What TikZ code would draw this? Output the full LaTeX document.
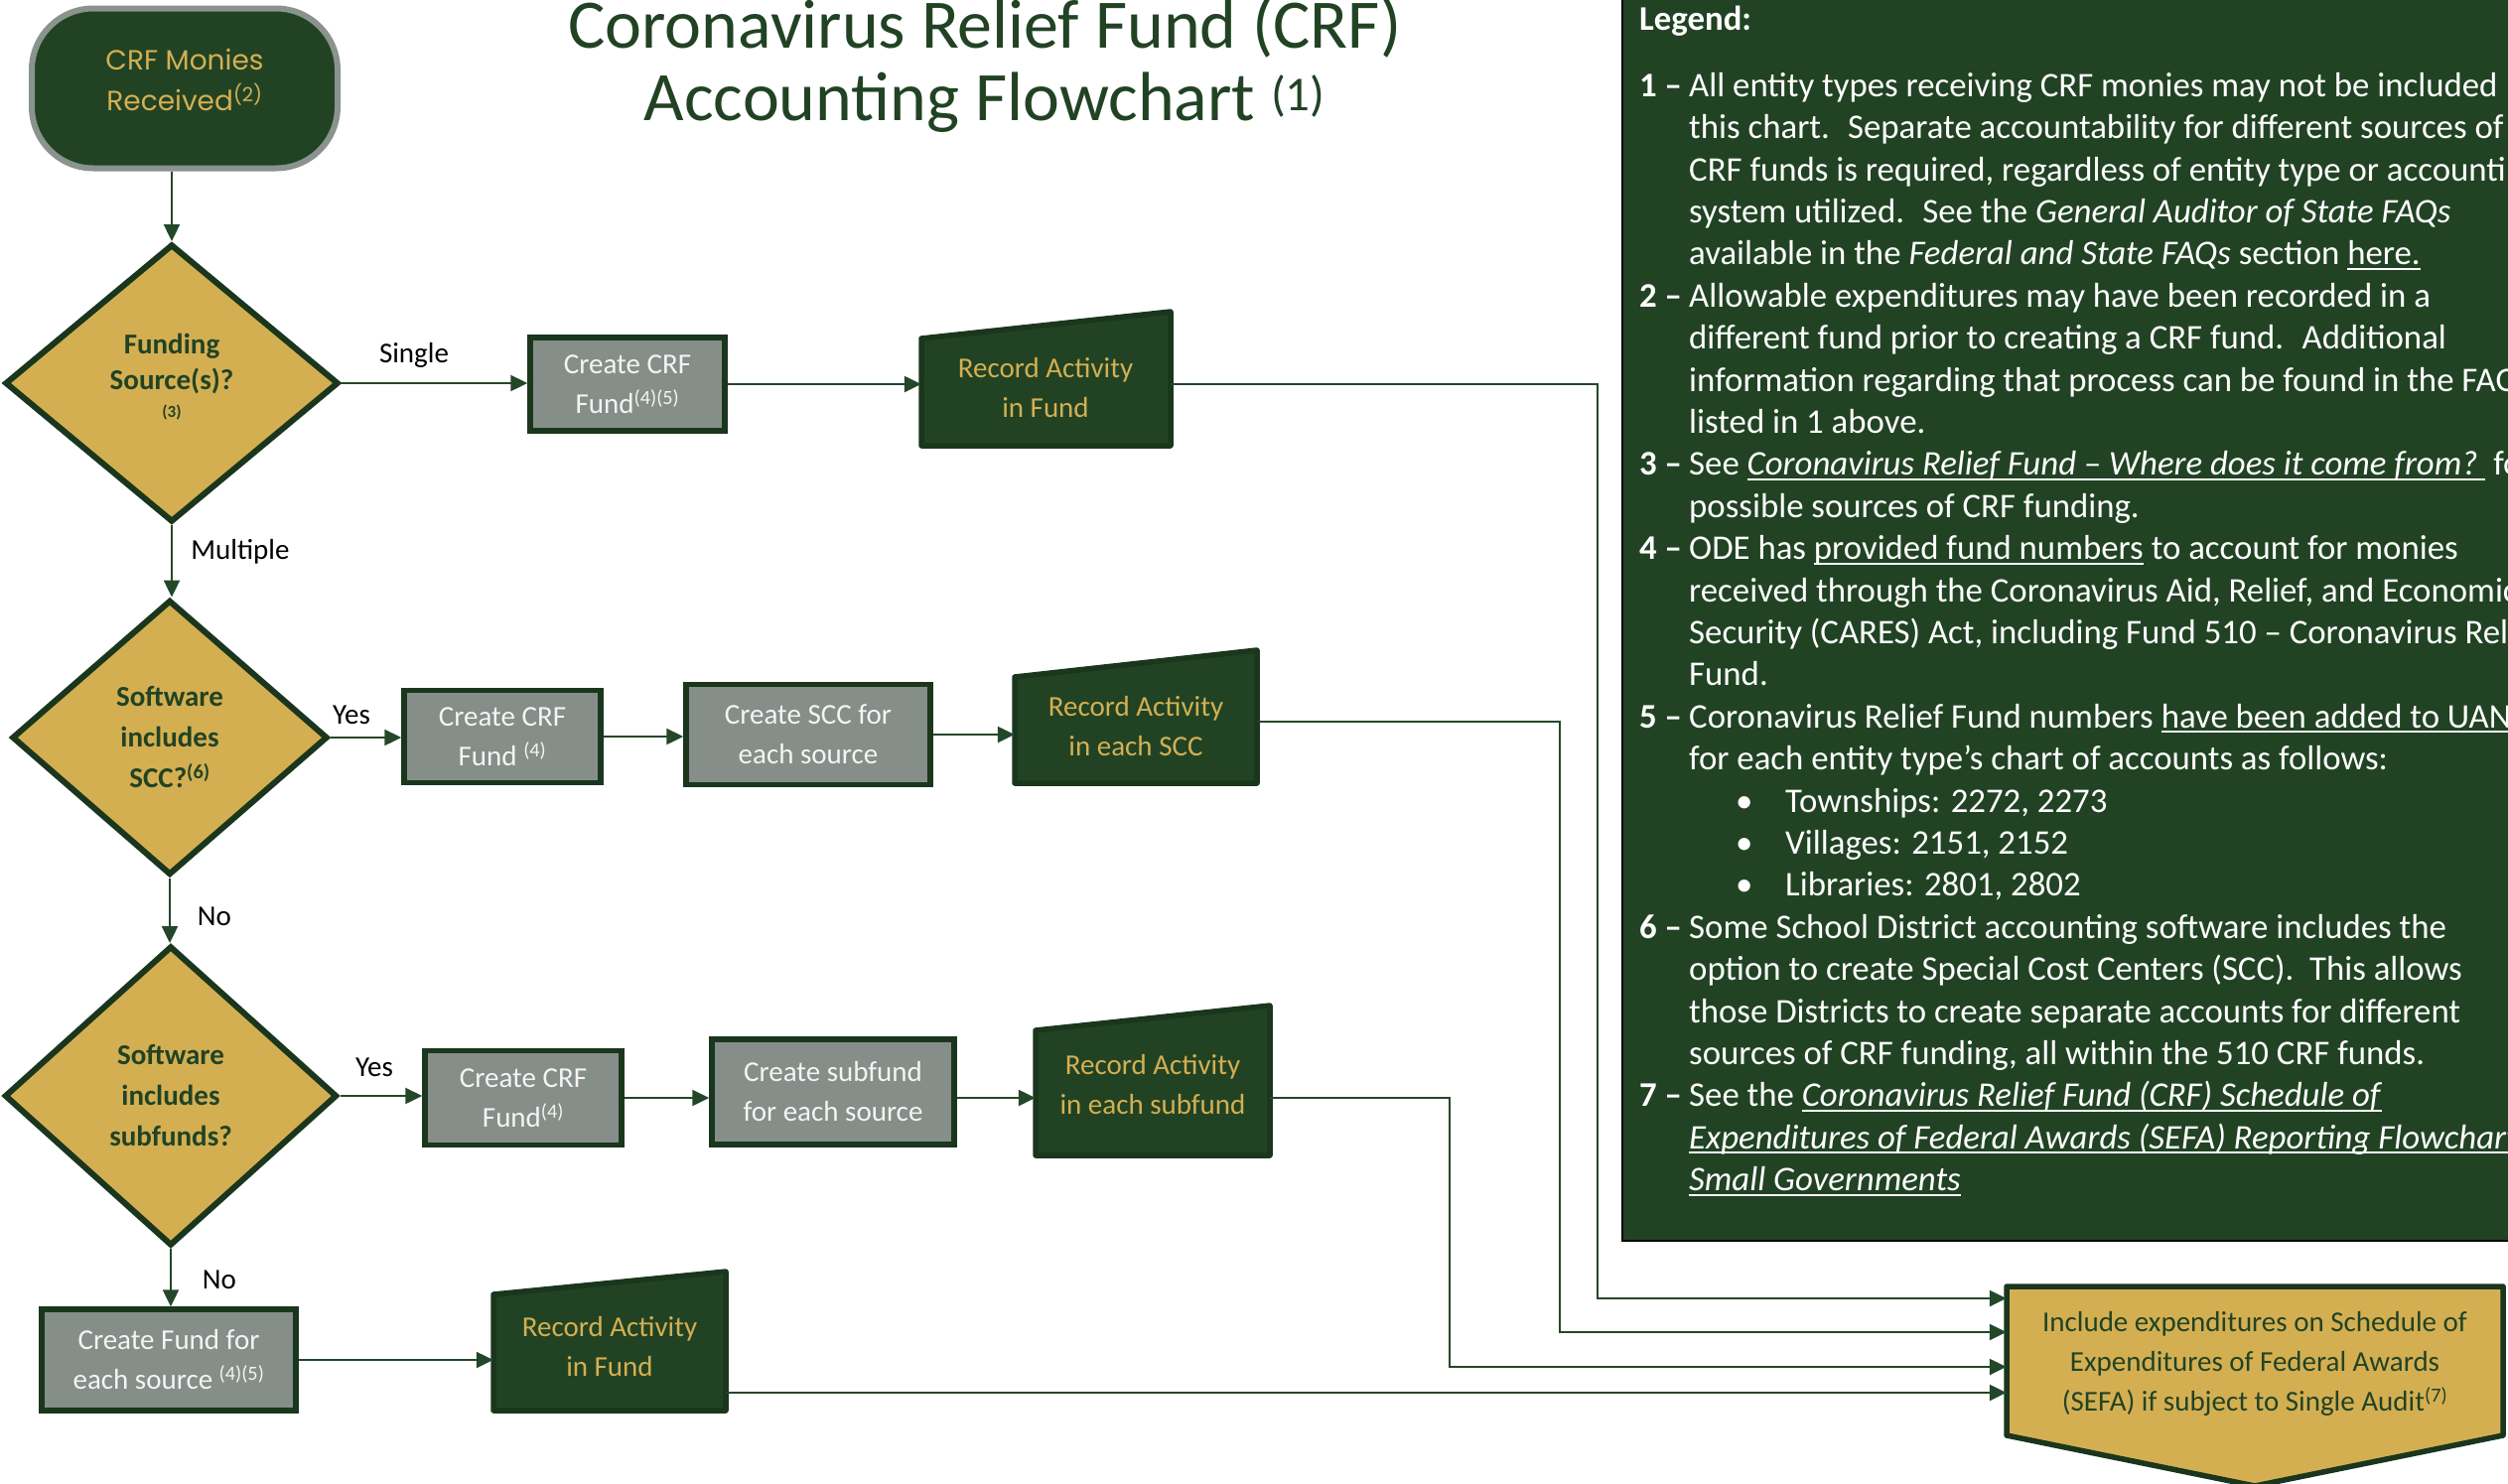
\documentclass[tikz,border=0pt]{standalone}
\usepackage{fontspec}
\setmainfont{Carlito}
\newfontfamily\gothicfont{Poppins}
\newfontfamily\titlefont{Carlito}
\usetikzlibrary{shapes.geometric,arrows.meta,fit,calc}
\definecolor{dkgreen}{HTML}{214324}
\definecolor{bdgreen}{HTML}{1A361D}
\definecolor{linegreen}{HTML}{24472A}
\definecolor{gold}{HTML}{D4AF52}
\definecolor{boxgray}{HTML}{858E88}
\definecolor{boxtext}{HTML}{F4F4F4}
\definecolor{startgray}{HTML}{8A938D}
\newsavebox\ulinebox
\newcommand\uln[1]{\sbox\ulinebox{#1}\rlap{\rule[-5pt]{\wd\ulinebox}{2.2pt}}\usebox\ulinebox}
\newcommand\legnum[1]{\makebox[50pt][l]{\textbf{#1 –}}}
\newcommand\legind{\hspace*{50pt}}
\newcommand\legbul{\hspace*{97pt}\makebox[50pt][l]{•}}
\newcommand\recpath[5]{\filldraw[recpoly] (#1,#3) -- (#2,#4) -- (#2,#5) -- (#1,#5) -- cycle;}
\tikzset{
  conn/.style={draw=linegreen, line width=2.4pt, -{Triangle[length=17pt,width=16pt]}},
  graybox/.style={rectangle, draw=bdgreen, line width=5.5pt, fill=boxgray, text=boxtext, font=\fontsize{29}{40}\selectfont, align=center, inner sep=0pt},
  decision/.style={diamond, aspect=1.15, draw=bdgreen, line width=6pt, fill=gold, text=dkgreen, font=\bfseries\fontsize{29}{41}\selectfont, align=center, inner sep=0pt},
  recpoly/.style={fill=dkgreen, draw=bdgreen, line width=5.5pt, line join=round},
  rectext/.style={text=gold, font=\fontsize{29}{40}\selectfont, align=center, inner sep=0pt},
  startshape/.style={rectangle, rounded corners=62pt, fill=dkgreen, draw=startgray, line width=6pt},
  starttext/.style={text=gold, font=\gothicfont\fontsize{28}{41}\selectfont, align=center, inner sep=0pt},
  lbl/.style={text=black, font=\fontsize{29}{34}\selectfont, inner sep=0pt},
  sefapoly/.style={fill=gold, draw=bdgreen, line width=5.5pt, line join=round},
  sefatext/.style={text=dkgreen, font=\fontsize{29}{40}\selectfont, align=center, inner sep=0pt},
  titlestyle/.style={text=dkgreen, font=\titlefont\fontsize{70}{80}\selectfont, inner sep=0pt},
  legbox/.style={fill=dkgreen, draw=black, line width=2.5pt},
  legtext/.style={text=white, font=\fontsize{34.8}{42.4}\selectfont, align=left, inner sep=0pt},
  fitbox/.style={inner sep=0pt, draw=none}
}
\begin{document}
\begin{tikzpicture}[x=1pt,y=-1pt]
\useasboundingbox (0,0) rectangle (2526,1494);
\fill[white] (0,0) rectangle (2526,1494);

% legend panel
\draw[legbox] (1634,-10) rectangle (2545,1250);
\node[legtext, anchor=west, font=\bfseries\fontsize{34.8}{42.4}\selectfont] (leghead) at (1651,21) {Legend:};
\node[legtext, anchor=north west] (legbody) at (1651,73) {%
\legnum{1}All entity types receiving CRF monies may not be included\\
\legind this chart.~ Separate accountability for different sources of\\
\legind CRF funds is required, regardless of entity type or accounting\\
\legind system utilized.~ See the \textit{General Auditor of State FAQs}\\
\legind available in the \textit{Federal and State FAQs} section \uln{here.}\\
\legnum{2}Allowable expenditures may have been recorded in a\\
\legind different fund prior to creating a CRF fund.~ Additional\\
\legind information regarding that process can be found in the FAQs\\
\legind listed in 1 above.\\
\legnum{3}See \uln{\textit{Coronavirus Relief Fund – Where does it come from?}\ } for\\
\legind possible sources of CRF funding.\\
\legnum{4}ODE has \uln{provided fund numbers} to account for monies\\
\legind received through the Coronavirus Aid, Relief, and Economic\\
\legind Security (CARES) Act, including Fund 510 – Coronavirus Relief\\
\legind Fund.\\
\legnum{5}Coronavirus Relief Fund numbers \uln{have been added to UAN}\\
\legind for each entity type’s chart of accounts as follows:\\
\legbul Townships: 2272, 2273\\
\legbul Villages: 2151, 2152\\
\legbul Libraries: 2801, 2802\\
\legnum{6}Some School District accounting software includes the\\
\legind option to create Special Cost Centers (SCC).~ This allows\\
\legind those Districts to create separate accounts for different\\
\legind sources of CRF funding, all within the 510 CRF funds.\\
\legnum{7}See the \uln{\textit{Coronavirus Relief Fund (CRF) Schedule of}}\\
\legind \uln{\textit{Expenditures of Federal Awards (SEFA) Reporting Flowchart}}\\
\legind \uln{\textit{Small Governments}}};

% title
\node[titlestyle, anchor=base] (title1) at (992,48) {Coronavirus Relief Fund (CRF)};
\node[titlestyle, anchor=base] (title2) at (992,121) {Accounting Flowchart \textsuperscript{(1)}};

% start
\node[startshape, minimum width=308pt, minimum height=161pt] (start) at (186,89) {};
\node[starttext] (startt) at (186,80) {CRF Monies\\Received\textsuperscript{(2)}};

% decisions
\node[decision, minimum width=336pt, minimum height=280pt] (d1) at (173,386) {};
\node[text=dkgreen, font=\bfseries\fontsize{29}{36}\selectfont, align=center, inner sep=0pt] (d1t) at (173,380) {Funding\\Source(s)?\\[-8pt]{\fontsize{17}{20}\selectfont(3)}};
\node[decision, minimum width=318pt, minimum height=277pt] (d2) at (171,743) {Software\\includes\\SCC?\textsuperscript{(6)}};
\node[decision, minimum width=335pt, minimum height=302pt] (d3) at (172,1104) {Software\\includes\\subfunds?};

% process boxes
\node[graybox, minimum width=196pt, minimum height=94pt] (b1) at (632,387) {Create CRF\\Fund\textsuperscript{(4)(5)}};
\node[graybox, minimum width=198pt, minimum height=93pt] (b2) at (506,742) {Create CRF\\Fund \textsuperscript{(4)}};
\node[graybox, minimum width=246pt, minimum height=101pt] (b3) at (814,740) {Create SCC for\\each source};
\node[graybox, minimum width=198pt, minimum height=95pt] (b4) at (527,1106) {Create CRF\\Fund\textsuperscript{(4)}};
\node[graybox, minimum width=244pt, minimum height=106pt] (b5) at (839,1100) {Create subfund\\for each source};
\node[graybox, minimum width=256pt, minimum height=102pt] (b6) at (170,1370) {Create Fund for\\each source \textsuperscript{(4)(5)}};

% record activity (manual input shapes)
\recpath{928}{1179}{341}{314}{449}
\node[fitbox, fit={(928,314) (1179,449)}] (r1) {};
\node[rectext] (r1t) at (1053,391) {Record Activity\\in Fund};
\recpath{1022}{1266}{682}{655}{789}
\node[fitbox, fit={(1022,655) (1266,789)}] (r2) {};
\node[rectext] (r2t) at (1144,732) {Record Activity\\in each SCC};
\recpath{1043}{1279}{1038}{1013}{1164}
\node[fitbox, fit={(1043,1013) (1279,1164)}] (r3) {};
\node[rectext] (r3t) at (1161,1093) {Record Activity\\in each subfund};
\recpath{497}{731}{1304}{1281}{1421}
\node[fitbox, fit={(497,1281) (731,1421)}] (r4) {};
\node[rectext] (r4t) at (614,1357) {Record Activity\\in Fund};

% SEFA off-page connector
\filldraw[sefapoly] (2021,1296) -- (2521,1296) -- (2521,1446) -- (2271,1497) -- (2021,1446) -- cycle;
\node[fitbox, fit={(2021,1296) (2521,1497)}] (sefa) {};
\node[sefatext] (sefat) at (2271,1374) {Include expenditures on Schedule of\\Expenditures of Federal Awards\\(SEFA) if subject to Single Audit\textsuperscript{(7)}};

\coordinate (e1) at (0,1308);
\coordinate (e2) at (0,1342);
\coordinate (e3) at (0,1377);
\coordinate (e4) at (0,1403);

% connectors
\draw[conn] (start.south -| d1.north) -- (d1.north);
\draw[conn] (d1.east) -- (d1.east -| b1.west);
\draw[conn] (b1.east) -- (b1.east -| r1.west);
\draw[conn] (b1.east -| r1.east) -- ++(430,0) |- (sefa.west |- e1);
\draw[conn] (d1.south) -- (d1.south |- d2.north);
\draw[conn] (d2.east) -- (d2.east -| b2.west);
\draw[conn] (b2.east) -- (b2.east -| b3.west);
\draw[conn] (b3.east) -- (b3.east -| r2.west);
\draw[conn] ([yshift=-5pt]r2.east) -- ++(305,0) |- (sefa.west |- e2);
\draw[conn] (d2.south) -- (d2.south |- d3.north);
\draw[conn] (d3.east) -- (d3.east -| b4.west);
\draw[conn] (b4.east) -- (b4.east -| b5.west);
\draw[conn] (b4.east -| b5.east) -- (b4.east -| r3.west);
\draw[conn] (b4.east -| r3.east) -- ++(181,0) |- (sefa.west |- e3);
\draw[conn] (d3.south) -- (d3.south |- b6.north);
\draw[conn] (b6.east) -- (b6.east -| r4.west);
\draw[conn] (r4.east |- e4) -- (sefa.west |- e4);

% labels
\node[lbl] (lsingle) at (417,358) {Single};
\node[lbl] (lmult) at (242,556) {Multiple};
\node[lbl] (lyes1) at (354,720) {Yes};
\node[lbl] (lno1) at (216,923) {No};
\node[lbl] (lyes2) at (377,1075) {Yes};
\node[lbl] (lno2) at (221,1289) {No};
\end{tikzpicture}
\end{document}
